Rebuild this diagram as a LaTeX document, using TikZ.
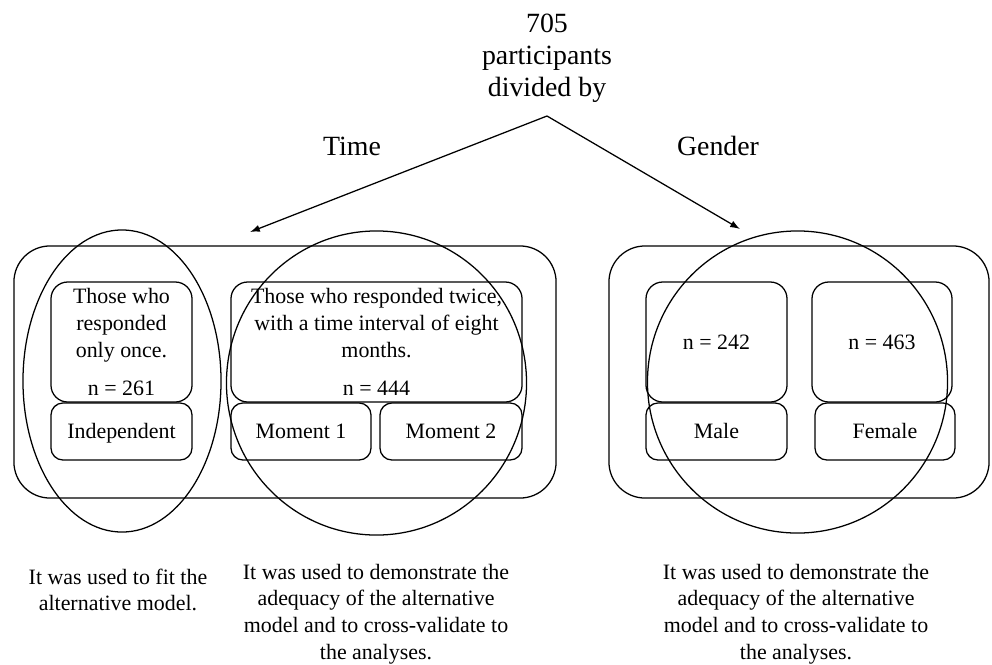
\documentclass[tikz,border=0pt]{standalone}
\usepackage{fontspec}
\setmainfont{Liberation Serif}
\usepackage{tikz}
\usetikzlibrary{arrows.meta,shapes.geometric}

\newcommand{\bodysize}{\fontsize{15.6pt}{19pt}\selectfont}
\newcommand{\headsize}{\fontsize{19.8pt}{22.8pt}\selectfont}

\tikzset{
  outerbox/.style={draw, line width=0.9pt, rounded corners=0.9cm, inner sep=0pt},
  infobox/.style={draw, line width=0.9pt, rounded corners=0.42cm, inner sep=0pt,
    minimum height=3cm, align=center, font=\bodysize},
  tagbox/.style={draw, line width=0.9pt, rounded corners=0.3cm, inner sep=0pt,
    minimum height=1.425cm, text height=1em, text depth=0.05em, font=\bodysize},
  sample/.style={draw, ellipse, line width=0.9pt, inner sep=0pt},
  note/.style={align=center, inner sep=0pt, font=\bodysize},
  head/.style={align=center, inner sep=0pt, font=\headsize},
  split/.style={line width=0.9pt, -{Latex[length=7pt,width=5pt]}}
}

\begin{document}
\begin{tikzpicture}[x=0.025cm, y=-0.025cm]
\useasboundingbox (0,0) rectangle (992,664);

% title and the two criteria
\node [head] (total) at (547,58) {705\\participants\\divided by};
\node [head] (time) at (352,146) {Time};
\node [head] (gender) at (718,146) {Gender};

\coordinate (peak) at (547,116);
\coordinate (timetip) at (250,232);
\coordinate (gendertip) at (740,229);
\draw [split] (peak) -- (timetip);
\draw [split] (peak) -- (gendertip);

% time groups
\node [outerbox, minimum width=13.55cm, minimum height=6.3cm] (timeframe) at (285,372) {};
\node [infobox, minimum width=3.525cm] (oncebox) at (121.5,342)
  {Those who\\responded\\only once.\\[8pt]n = 261};
\node [infobox, minimum width=7.275cm] (twicebox) at (376.5,342)
  {Those who responded twice,\\with a time interval of eight\\months.\\[8pt]n = 444};
\node [tagbox, minimum width=3.525cm] (indep) at (121.5,431.5) {Independent};
\node [tagbox, minimum width=3.5cm] (moment1) at (301,431.5) {Moment 1};
\node [tagbox, minimum width=3.55cm] (moment2) at (451,431.5) {Moment 2};

% gender groups
\node [outerbox, minimum width=9.5cm, minimum height=6.3cm] (genderframe) at (799,372) {};
\node [infobox, minimum width=3.525cm] (malebox) at (716.5,342) {n = 242};
\node [infobox, minimum width=3.5cm] (femalebox) at (882,342) {n = 463};
\node [tagbox, minimum width=3.525cm] (male) at (716.5,431.5) {Male};
\node [tagbox, minimum width=3.5cm] (female) at (885,431.5) {Female};

% samples used
\node [sample, minimum width=4.95cm, minimum height=7.55cm] (fitset) at (122,381) {};
\node [sample, minimum width=7.5cm, minimum height=7.6cm] (timeset) at (376.5,383) {};
\node [sample, minimum width=7.5cm, minimum height=7.55cm] (genderset) at (797.5,382) {};

\node [note] (fitnote) at (118,590) {It was used to fit the\\alternative model.};
\node [note] (timenote) at (376,614)
  {It was used to demonstrate the\\adequacy of the alternative\\model and to cross-validate to\\the analyses.};
\node [note] (gendernote) at (796,614)
  {It was used to demonstrate the\\adequacy of the alternative\\model and to cross-validate to\\the analyses.};
\end{tikzpicture}
\end{document}
